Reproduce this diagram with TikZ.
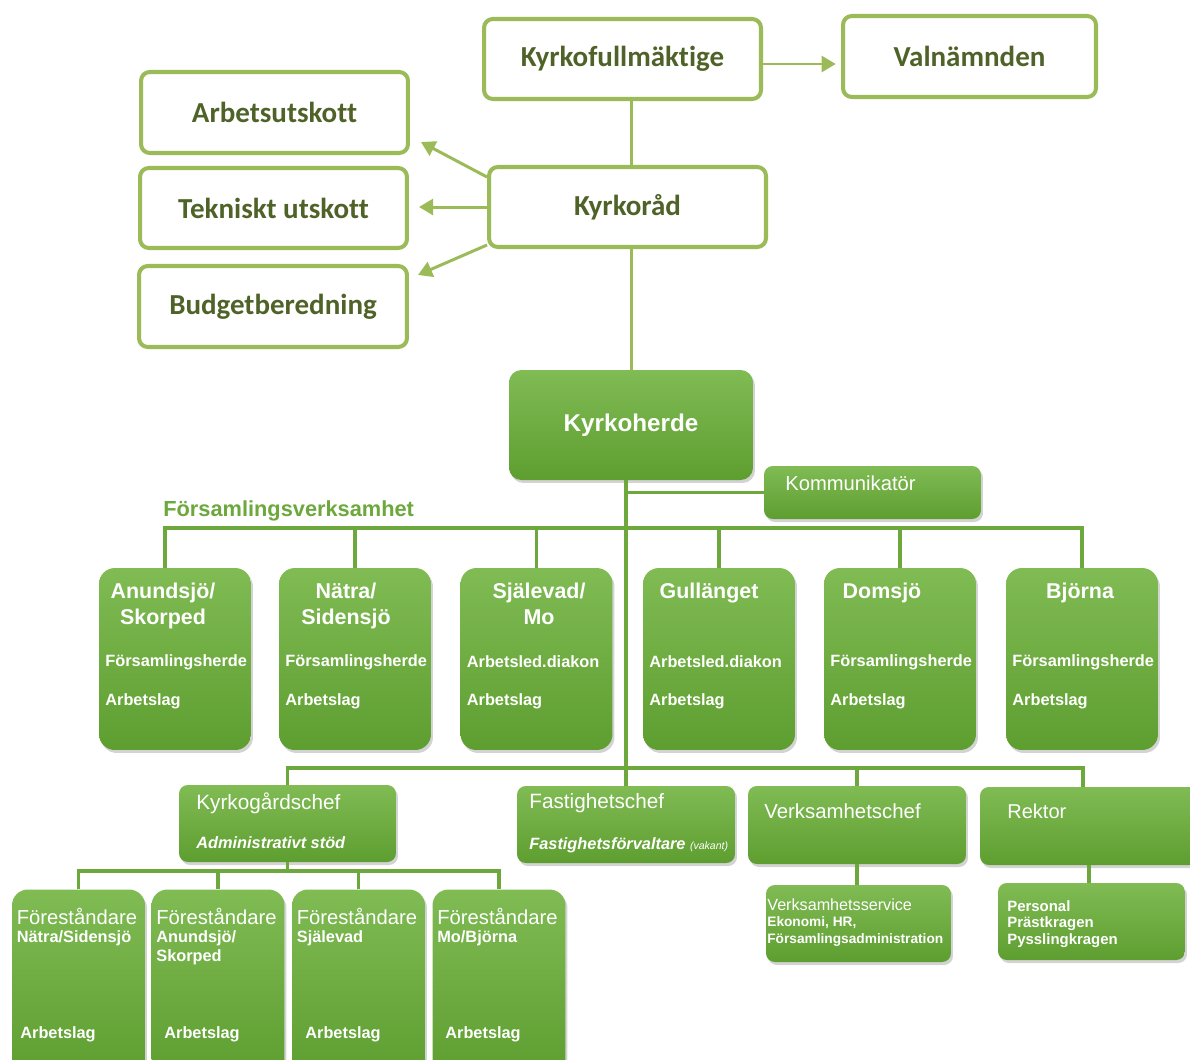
\documentclass[tikz,border=0pt]{standalone}
\usepackage{fontspec}
\setmainfont{Liberation Sans}
\newfontfamily\topfont{Carlito}[Ligatures=NoCommon]
\usetikzlibrary{arrows.meta, shadows, positioning}
\definecolor{olivebox}{RGB}{155,187,89}
\definecolor{olivetext}{RGB}{79,98,40}
\definecolor{gtop}{RGB}{128,187,84}
\definecolor{gbot}{RGB}{94,158,48}
\definecolor{glinecol}{RGB}{108,168,60}
\newcommand\fsz[2]{\fontsize{#1}{#2}\selectfont}
\tikzset{
  topbox/.style={draw=olivebox, line width=2.3pt, rounded corners=5pt, fill=white, text=olivetext,
    font=\topfont\bfseries\fsz{16.5}{19}, inner sep=0pt},
  conn/.style={draw=olivebox, line width=1.7pt},
  connarrow/.style={conn, -{Triangle[length=8pt,width=9pt]}},
  gbox/.style={rounded corners=5pt, top color=gtop, bottom color=gbot, draw=none, inner sep=0pt,
    drop shadow={opacity=0.35, shadow xshift=0.04cm, shadow yshift=-0.06cm}},
  gline/.style={draw=glinecol, line width=2.2pt},
  wtext/.style={text=white, inner sep=0pt},
}
% parish box: name, centre x, title x, title, role
\newcommand\parish[5]{%
\node[gbox, rounded corners=9pt, minimum width=3.04cm, minimum height=3.64cm] (#1) at (#2,659) {};
\node[wtext, anchor=north, align=center, font=\bfseries\fsz{12.2}{14.7}] (#1-t) at (#3,583) {#4};
\node[wtext, anchor=west, font=\bfseries\fsz{9.3}{11}] (#1-r) at (#2-70,662) {#5};
\node[wtext, anchor=west, font=\bfseries\fsz{9.3}{11}] (#1-a) at (#2-70,701) {Arbetslag};}
% foreståndare box: name, centre x, place, x of Arbetslag
\newcommand\fstbox[4]{%
\node[gbox, rounded corners=9pt, minimum width=2.66cm, minimum height=3.7cm] (#1) at (#2,982) {};
\node[wtext, anchor=west, font=\fsz{11.5}{13}] (#1-t) at (#2-62,916) {Föreståndare};
\node[wtext, anchor=north west, align=left, font=\bfseries\fsz{9.3}{10.8}] (#1-s) at (#2-62,930) {#3};
\node[wtext, anchor=west, font=\bfseries\fsz{9.3}{11}] (#1-a) at (#4,1034) {Arbetslag};}

\begin{document}
\begin{tikzpicture}[x=0.02cm, y=-0.02cm]
\useasboundingbox (0,0) rectangle (1190,1059);

% boards
\node[topbox, minimum width=5.54cm, minimum height=1.6cm] (kf) at (622.5,59) {Kyrkofullmäktige};
\node[topbox, minimum width=5.06cm, minimum height=1.62cm] (vn) at (969.5,56.5) {Valnämnden};
\node[topbox, minimum width=5.34cm, minimum height=1.62cm] (au) at (274.5,112.5) {Arbetsutskott};
\node[topbox, minimum width=5.34cm, minimum height=1.6cm] (tu) at (273.5,208) {Tekniskt utskott};
\node[topbox, minimum width=5.36cm, minimum height=1.62cm] (bb) at (273,306.5) {Budgetberedning};
\node[topbox, minimum width=5.54cm, minimum height=1.6cm] (kr) at (627.5,207) {Kyrkoråd};

% kyrkoherde
\node[gbox, rounded corners=7pt, minimum width=4.88cm, minimum height=2.2cm, text=white,
  font=\bfseries\fsz{13.8}{16}] (kh) at (631,425) {Kyrkoherde};
\node[gbox, minimum width=4.34cm, minimum height=1.06cm] (kom) at (872.5,492.5) {};
\node[wtext, anchor=west, font=\fsz{11.5}{13}] (kom-t) at (785,483) {Kommunikatör};

% parishes
\node[anchor=west, inner sep=0pt, text=glinecol, font=\bfseries\fsz{12.4}{14}] (fv) at (163,511) {Församlingsverksamhet};
\parish{p1}{175}{163}{Anundsjö/\\Skorped}{Församlingsherde}
\parish{p2}{355}{346}{Nätra/\\Sidensjö}{Församlingsherde}
\parish{p3}{536.5}{539}{Själevad/\\Mo}{Arbetsled.diakon}
\parish{p4}{719}{709}{Gullänget}{Arbetsled.diakon}
\parish{p5}{900}{882}{Domsjö}{Församlingsherde}
\parish{p6}{1082}{1080}{Björna}{Församlingsherde}

% chiefs
\node[gbox, minimum width=4.34cm, minimum height=1.54cm] (kg) at (287.5,823.5) {};
\node[wtext, anchor=west, font=\fsz{11.8}{13}] (kg-t) at (196,803) {Kyrkogårdschef};
\node[wtext, anchor=west, font=\bfseries\itshape\fsz{9.3}{11}] (kg-s) at (196,843) {Administrativt stöd};
\node[gbox, minimum width=4.36cm, minimum height=1.54cm] (fc) at (626,824.5) {};
\node[wtext, anchor=west, font=\fsz{11.8}{13}] (fc-t) at (529,803) {Fastighetschef};
\node[wtext, anchor=west, font=\bfseries\itshape\fsz{9.3}{11}] (fc-s) at (529,845)
  {Fastighetsförvaltare {\mdseries\fsz{6}{7}(vakant)}};
\node[gbox, minimum width=4.36cm, minimum height=1.56cm] (vc) at (857,825) {};
\node[wtext, anchor=west, font=\fsz{11.6}{13}] (vc-t) at (764,811) {Verksamhetschef};
\node[gbox, minimum width=4.36cm, minimum height=1.56cm] (rk) at (1089,826) {};
\node[wtext, anchor=west, font=\fsz{11.4}{13}] (rk-t) at (1007,811) {Rektor};
\node[gbox, minimum width=3.7cm, minimum height=1.54cm] (vs) at (858.5,923.5) {};
\node[wtext, anchor=north west, align=left, font=\bfseries\fsz{7.8}{9.6}] (vs-t) at (767,898)
  {{\mdseries\fsz{9.2}{9.6}Verksamhetsservice}\\Ekonomi, HR,\\Församlingsadministration};
\node[gbox, minimum width=3.74cm, minimum height=1.54cm] (pk) at (1091.5,921.5) {};
\node[wtext, anchor=north west, align=left, font=\bfseries\fsz{8.5}{9.4}] (pk-t) at (1007,900)
  {Personal\\Prästkragen\\Pysslingkragen};

% foreståndare
\fstbox{f1}{78.5}{Nätra/Sidensjö}{20}
\fstbox{f2}{218}{Anundsjö/\\Skorped}{164}
\fstbox{f3}{358.5}{Själevad}{305}
\fstbox{f4}{499}{Mo/Björna}{445}

% upper connectors
\draw[connarrow, shorten >=3pt] ([yshift=-0.1cm]kf.east) -- ([yshift=-0.1cm]kf.east -| vn.west);
\draw[conn] (kf.south -| kh.north) -- (kr.north -| kh.north);
\draw[conn] (kr.south -| kh.north) -- (kh.north);
\draw[connarrow] ([yshift=0.6cm]kr.west) -- ([xshift=0.22cm,yshift=0.26cm]au.south east);
\draw[connarrow] (kr.west) -- ([xshift=0.2cm]kr.west -| tu.east);
\draw[connarrow] ([yshift=-0.76cm]kr.west) -- ([xshift=0.18cm,yshift=-0.22cm]bb.north east);

% lower connectors
\draw[gline] (kh.south -| fc.north) -- (fc.north);
\draw[gline] (kom.west) -- (kom.west -| fc.north);
\coordinate (bar1) at (628,528);
\draw[gline] ([xshift=-0.2cm]p1.north) |- (bar1) -| (p6.north);
\foreach \p in {p2,p3,p4,p5} \draw[gline] (\p.north) -- (\p.north |- bar1);
\coordinate (bar2) at (628,768);
\draw[gline] (kg.north) |- (bar2) -| ([xshift=-0.12cm]rk.north);
\draw[gline] (vc.north) -- (vc.north |- bar2);
\draw[gline] (vc.south) -- (vc.south |- vs.north);
\draw[gline] (rk.south) -- (rk.south |- pk.north);
\coordinate (bar3) at (287,871);
\draw[gline] (kg.south) -- (kg.south |- bar3);
\draw[gline] (f1.north) |- (bar3) -| (f4.north);
\foreach \f in {f2,f3} \draw[gline] (\f.north) -- (\f.north |- bar3);
\end{tikzpicture}
\end{document}
